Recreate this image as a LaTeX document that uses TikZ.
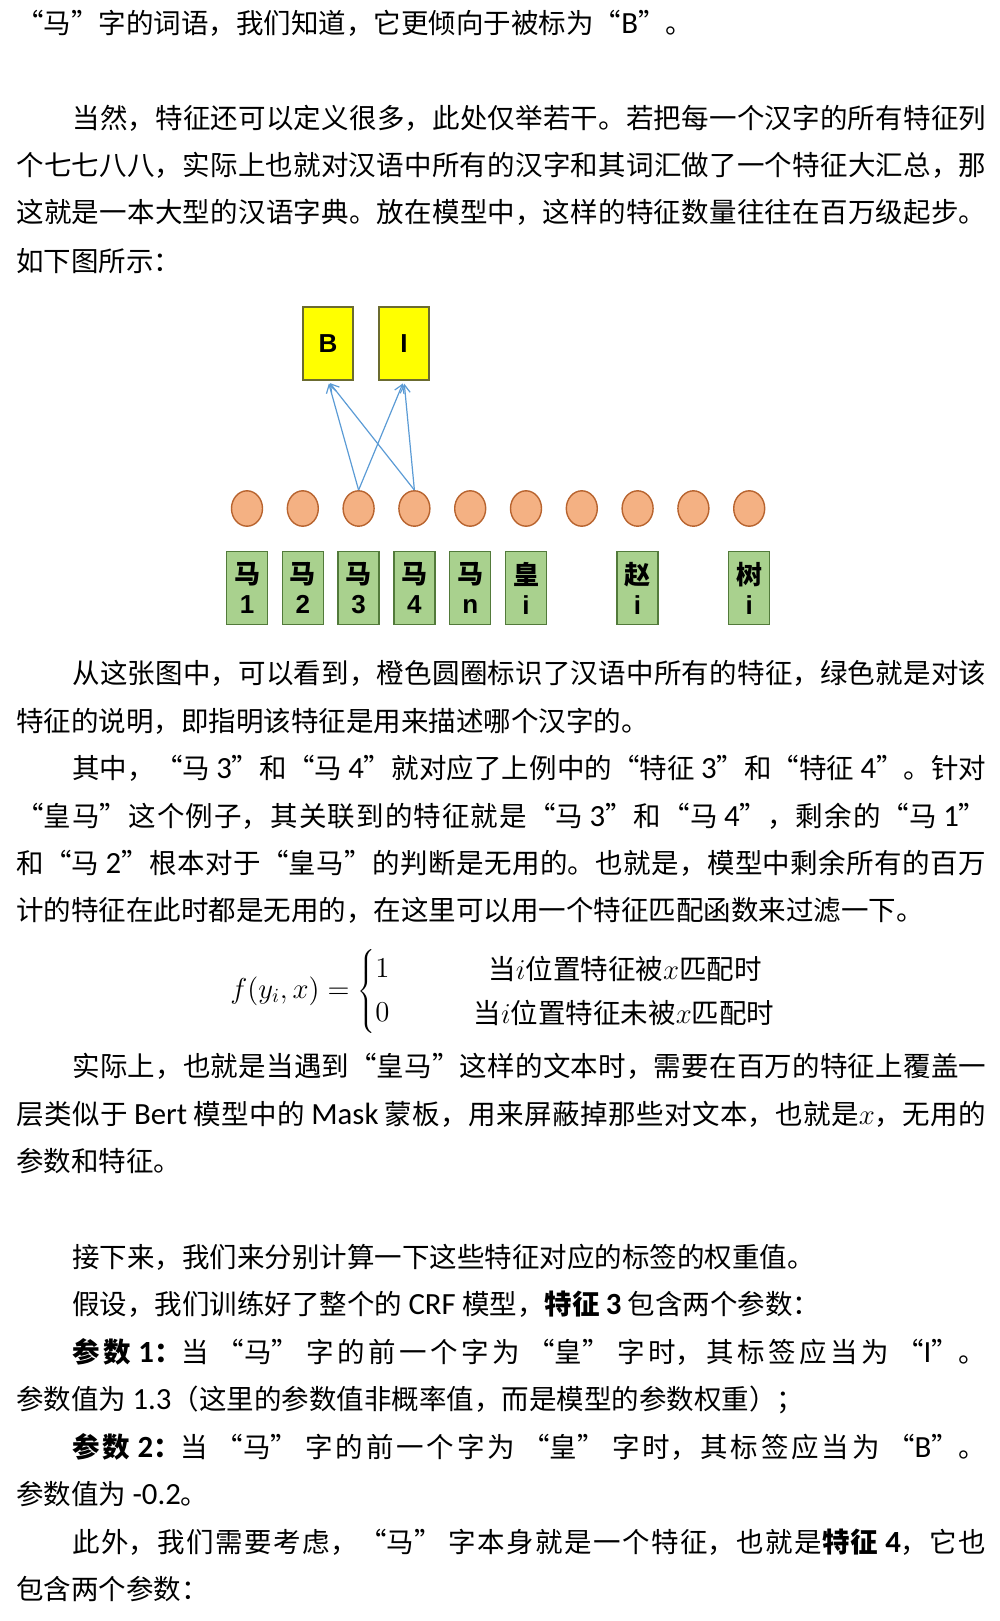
\documentclass[tikz,border=0pt]{standalone}
\usepackage{fontspec}
\setmainfont{Noto Sans CJK SC}
\newfontfamily\engfont[Scale=1.12]{Carlito}
\newfontfamily\arialfont{Liberation Sans}
\usetikzlibrary{arrows.meta,shapes.geometric}
\XeTeXlinebreaklocale "zh"
\XeTeXlinebreakskip=0pt plus 4pt
\setlength\parindent{0pt}
\tolerance=10000
\newcommand\eng[1]{{\engfont #1}}
\definecolor{labfill}{HTML}{FFFF00}
\definecolor{labedge}{HTML}{6B6B30}
\definecolor{featfill}{HTML}{F4B183}
\definecolor{featedge}{HTML}{B8642F}
\definecolor{chrfill}{HTML}{A9D18E}
\definecolor{chredge}{HTML}{527A3A}
\definecolor{arrblue}{HTML}{5B9BD5}
\tikzset{
  body/.style={inner sep=0pt, font=\fontsize{13.75pt}{22pt}\selectfont},
  txt/.style={body, anchor=base west},
  full/.style={txt, text width=#1, align=justify},
  lab/.style={draw=labedge, fill=labfill, line width=0.7pt, minimum width=25pt,
    minimum height=36.5pt, inner sep=0pt, font=\arialfont\bfseries\fontsize{13pt}{15pt}\selectfont},
  feat/.style={ellipse, draw=featedge, fill=featfill, line width=0.7pt,
    minimum width=15.5pt, minimum height=17.7pt, inner sep=0pt},
  chr/.style={draw=chredge, fill=chrfill, line width=0.7pt, minimum width=20.5pt,
    minimum height=36.5pt, inner sep=0pt, align=center, font=\bfseries\fontsize{13pt}{15pt}\selectfont},
  arr/.style={draw=arrblue, line width=0.6pt, shorten >=1.5pt,
    -{Straight Barb[length=4pt,width=5pt]}}
}
\begin{document}
\begin{tikzpicture}[x=0.5pt,y=-0.5pt]
\useasboundingbox (0,0) rectangle (1000,1621);
% text above the figure
\node[txt] (l1) at (16,34) {“马”字的词语，我们知道，它更倾向于被标为“\eng{B}”。};
\node[full=457pt] (l2) at (72,129) {\parfillskip=0pt 当然，特征还可以定义很多，此处仅举若干。若把每一个汉字的所有特征列\par};
\node[full=485pt] (l3) at (16,176) {\parfillskip=0pt 个七七八八，实际上也就对汉语中所有的汉字和其词汇做了一个特征大汇总，那\par};
\node[full=485pt] (l4) at (16,223) {\parfillskip=0pt 这就是一本大型的汉语字典。放在模型中，这样的特征数量往往在百万级起步。\par};
\node[txt] (l5) at (16,271) {如下图所示：};
% labels
\node[lab] (B) at (328,343.5) {B};
\node[lab] (I) at (404,343.5) {I};
% features
\node[feat] (f1) at (247,508.5) {};
\node[feat] (f2) at (302.8,508.5) {};
\node[feat] (f3) at (358.6,508.5) {};
\node[feat] (f4) at (414.4,508.5) {};
\node[feat] (f5) at (470.2,508.5) {};
\node[feat] (f6) at (526,508.5) {};
\node[feat] (f7) at (581.8,508.5) {};
\node[feat] (f8) at (637.6,508.5) {};
\node[feat] (f9) at (693.4,508.5) {};
\node[feat] (f10) at (749.2,508.5) {};
% characters
\node[chr] (c1) at (247,588) {马\\{\arialfont 1}};
\node[chr] (c2) at (302.8,588) {马\\{\arialfont 2}};
\node[chr] (c3) at (358.6,588) {马\\{\arialfont 3}};
\node[chr] (c4) at (414.4,588) {马\\{\arialfont 4}};
\node[chr] (c5) at (470.2,588) {马\\{\arialfont n}};
\node[chr] (c6) at (526,588) {皇\\{\arialfont i}};
\node[chr] (c8) at (637.6,588) {赵\\{\arialfont i}};
\node[chr] (c10) at (749.2,588) {树\\{\arialfont i}};
\draw[arr] (f3.north) -- (B.south);
\draw[arr] (f3.north) -- (I.south);
\draw[arr] (f4.north) -- (B.south);
\draw[arr] (f4.north) -- (I.south);
% text below the figure
\node[full=457pt] (l6) at (72,683) {\parfillskip=0pt 从这张图中，可以看到，橙色圆圈标识了汉语中所有的特征，绿色就是对该\par};
\node[txt] (l7) at (16,731) {特征的说明，即指明该特征是用来描述哪个汉字的。};
\node[full=457pt] (l8) at (72,778) {\parfillskip=0pt 其中，“马 \eng{3}”和“马 \eng{4}”就对应了上例中的“特征 \eng{3}”和“特征 \eng{4}”。针对\par};
\node[full=485pt] (l9) at (16,826) {\parfillskip=0pt “皇马”这个例子，其关联到的特征就是“马 \eng{3}”和“马 \eng{4}”，剩余的“马 \eng{1}”\par};
\node[full=485pt] (l10) at (16,873) {\parfillskip=0pt 和“马 \eng{2}”根本对于“皇马”的判断是无用的。也就是，模型中剩余所有的百万\par};
\node[txt] (l11) at (16,920) {计的特征在此时都是无用的，在这里可以用一个特征匹配函数来过滤一下。};
% formula
\node[body, anchor=west] (fy) at (230,991) {$f(y_i,x)=\left\{\begin{array}{@{}l}1\\0\end{array}\right.$};
\node[body] (r1) at (625,969) {当$i$位置特征被$x$匹配时};
\node[body] (r2) at (624,1013) {当$i$位置特征未被$x$匹配时};
\node[full=457pt] (l12) at (72,1076) {\parfillskip=0pt 实际上，也就是当遇到“皇马”这样的文本时，需要在百万的特征上覆盖一\par};
\node[full=485pt] (l13) at (16,1124) {\parfillskip=0pt 层类似于 \eng{Bert} 模型中的 \eng{Mask} 蒙板，用来屏蔽掉那些对文本，也就是$x$，无用的\par};
\node[txt] (l14) at (16,1171) {参数和特征。};
\node[txt] (l15) at (72,1267) {接下来，我们来分别计算一下这些特征对应的标签的权重值。};
\node[txt] (l16) at (72,1314) {假设，我们训练好了整个的 \eng{CRF} 模型，\textbf{特征 \eng{3}} 包含两个参数：};
\node[full=457pt] (l17) at (72,1362) {\parfillskip=0pt \textbf{参数 \eng{1}：}当 “马” 字的前一个字为 “皇” 字时，其标签应当为 “\eng{I}”。\par};
\node[txt] (l18) at (16,1409) {参数值为 \eng{1.3}（这里的参数值非概率值，而是模型的参数权重）；};
\node[full=457pt] (l19) at (72,1457) {\parfillskip=0pt \textbf{参数 \eng{2}：}当 “马” 字的前一个字为 “皇” 字时，其标签应当为 “\eng{B}”。\par};
\node[txt] (l20) at (16,1504) {参数值为 \eng{-0.2}。};
\node[full=457pt] (l21) at (72,1552) {\parfillskip=0pt 此外，我们需要考虑，“马” 字本身就是一个特征，也就是\textbf{特征 \eng{4}}，它也\par};
\node[txt] (l22) at (16,1599) {包含两个参数：};
\end{tikzpicture}
\end{document}
